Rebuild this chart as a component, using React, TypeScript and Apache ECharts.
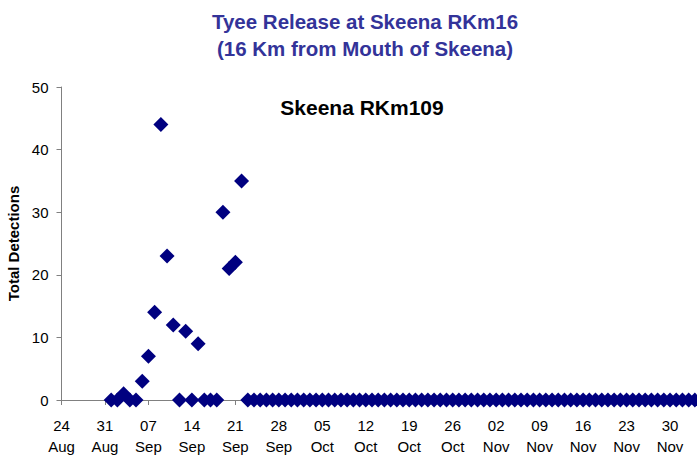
import React, { useEffect, useRef } from "react";
import * as echarts from "echarts";

// Day 0 of the axis is 24 Aug; ticks every 7 days
const axisStartLabel = { day: 24, month: 7 }; // 24 Aug (month index 7 = Aug)
const monthNames = ["Jan", "Feb", "Mar", "Apr", "May", "Jun", "Jul", "Aug", "Sep", "Oct", "Nov", "Dec"];
const firstDataDay = 8; // 01 Sep, days after 24 Aug
// Daily detections from 01 Sep through 04 Dec
const detections = [
  0, 0, 1, 0, 0, 3, 7, 14, 44, 23, 12, 0, 11, 0, 9, 0, 0, 0, 30, 21, 22, 35,
  0, 0, 0, 0, 0, 0, 0, 0, 0, 0, 0, 0, 0, 0, 0, 0, 0, 0, 0, 0, 0, 0, 0, 0, 0, 0, 0, 0,
  0, 0, 0, 0, 0, 0, 0, 0, 0, 0, 0, 0, 0, 0, 0, 0, 0, 0, 0, 0, 0, 0, 0, 0, 0, 0, 0, 0,
  0, 0, 0, 0, 0, 0, 0, 0, 0, 0, 0, 0, 0, 0, 0, 0, 0,
];
const yTicks = [0, 10, 20, 30, 40, 50];

const daysInMonth = [31, 28, 31, 30, 31, 30, 31, 31, 30, 31, 30, 31];
function dayLabel(offset: number): string {
  let d = axisStartLabel.day + offset;
  let m = axisStartLabel.month;
  while (d > daysInMonth[m]) {
    d -= daysInMonth[m];
    m = (m + 1) % 12;
  }
  return (d < 10 ? "0" + d : "" + d) + "\n" + monthNames[m];
}

const FONT = "'Liberation Sans', Arial, sans-serif";

export default function App() {
  const ref = useRef<HTMLDivElement>(null);
  useEffect(() => {
    if (!ref.current) return;
    const chart = echarts.init(ref.current, undefined, { renderer: "svg" });
    const points = detections.map((v, i) => [firstDataDay + i, v]);
    chart.setOption({
      animation: false,
      backgroundColor: "#ffffff",
      title: [
        {
          text: "Tyee Release at Skeena RKm16\n(16 Km from Mouth of Skeena)",
          left: 360,
          top: 3,
          textAlign: "center",
          textStyle: {
            fontFamily: FONT,
            fontSize: 20.5,
            fontWeight: "bold",
            color: "#333399",
            lineHeight: 27,
          },
        },
        {
          text: "Skeena RKm109",
          left: 357,
          top: 92,
          textAlign: "center",
          textStyle: {
            fontFamily: FONT,
            fontSize: 21,
            fontWeight: "bold",
            color: "#000000",
          },
        },
      ],
      grid: {
        left: 61.5,
        top: 87,
        bottom: 62,
        right: -16.5,
        containLabel: false,
        outerBoundsMode: "none",
      },
      xAxis: {
        type: "value",
        min: 0,
        max: 105,
        interval: 7,
        splitLine: { show: false },
        axisLine: { onZero: false, lineStyle: { color: "#808080", width: 1 } },
        axisTick: { show: true, length: 5, lineStyle: { color: "#808080" } },
        axisLabel: {
          formatter: (v: number) => dayLabel(v),
          fontFamily: FONT,
          fontSize: 15,
          color: "#000000",
          lineHeight: 21,
          margin: 15,
          hideOverlap: false,
          showMaxLabel: false,
        },
      },
      yAxis: {
        type: "value",
        min: yTicks[0],
        max: yTicks[yTicks.length - 1],
        interval: 10,
        name: "Total Detections",
        nameLocation: "middle",
        nameGap: 35,
        nameRotate: 90,
        nameTextStyle: {
          fontFamily: FONT,
          fontSize: 15,
          fontWeight: "bold",
          color: "#000000",
        },
        splitLine: { show: false },
        axisLine: { show: true, lineStyle: { color: "#808080", width: 1 } },
        axisTick: { show: true, length: 5, lineStyle: { color: "#808080" } },
        axisLabel: {
          fontFamily: FONT,
          fontSize: 15,
          color: "#000000",
          margin: 13,
        },
      },
      series: [
        {
          type: "scatter",
          data: points,
          symbol: "diamond",
          symbolSize: [15, 15],
          itemStyle: { color: "#000080", opacity: 1 },
          clip: false,
        },
      ],
    });
    return () => chart.dispose();
  }, []);
  return (
    <div
      ref={ref}
      style={{ position: "absolute", left: 0, top: 0, width: 697, height: 462 }}
    />
  );
}
